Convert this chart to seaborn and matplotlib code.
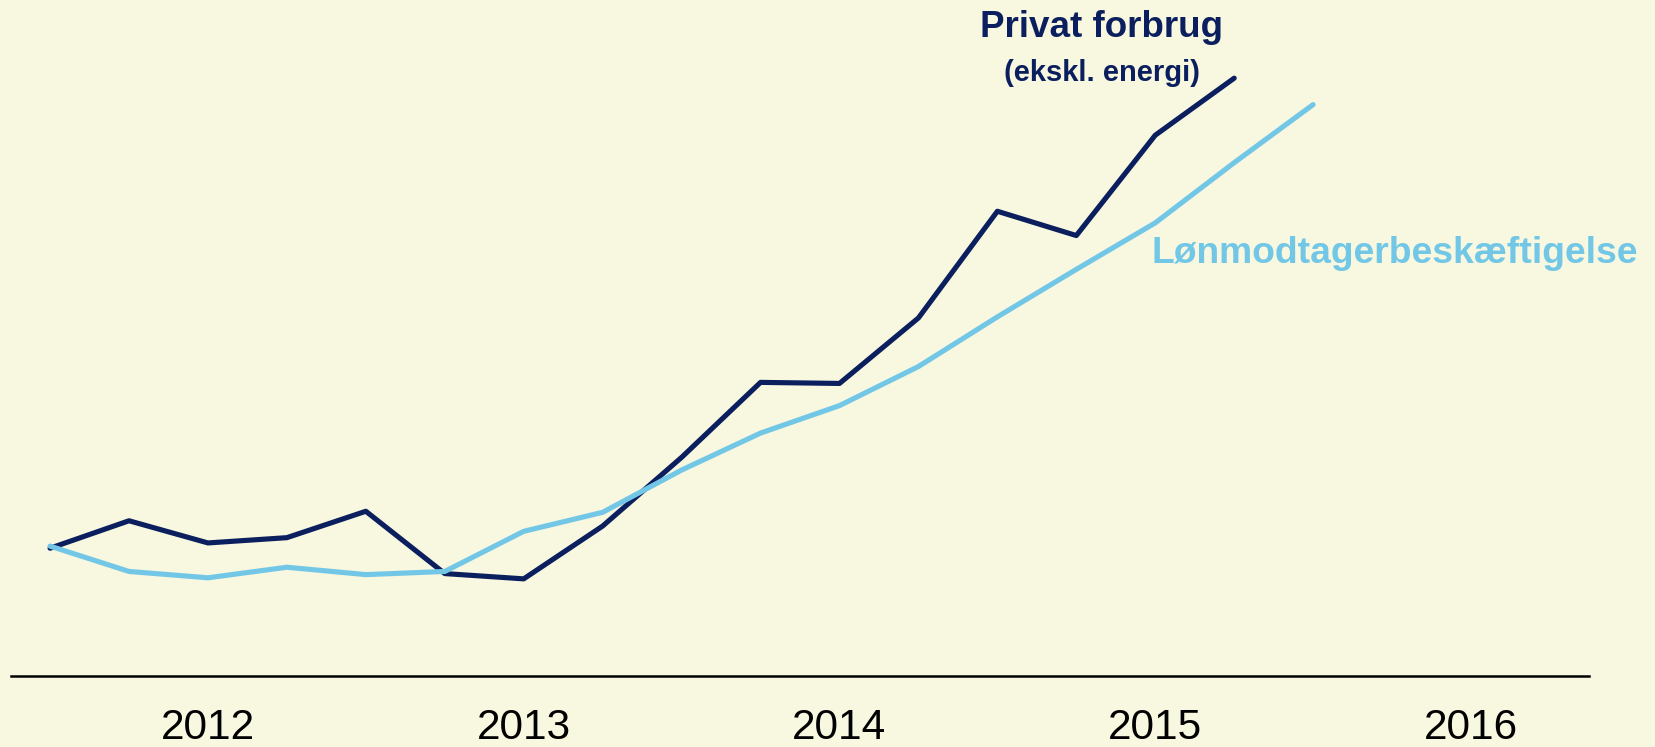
import numpy as np
import pandas as pd
import matplotlib.pyplot as plt
import seaborn as sns

# Quarterly index values (first quarter = 100)
quarters = list(range(17))
privat_forbrug = [99.98, 100.50, 100.08, 100.18, 100.68, 99.50, 99.40, 100.40,
                  101.70, 103.12, 103.10, 104.34, 106.36, 105.90, 107.80, 108.88]
beskaeftigelse = [100.02, 99.54, 99.42, 99.62, 99.48, 99.54, 100.30, 100.66,
                  101.46, 102.16, 102.68, 103.42, 104.36, 105.26, 106.14, 107.28, 108.38]
year_labels = ["2012", "2013", "2014", "2015", "2016"]
year_pos = [2, 6, 10, 14, 18]

navy = "#0b1f5e"
light = "#72c7e7"
bg = "#f8f7e0"

df = pd.concat([
    pd.DataFrame({"q": quarters[:len(privat_forbrug)], "v": privat_forbrug, "serie": "Privat forbrug"}),
    pd.DataFrame({"q": quarters, "v": beskaeftigelse, "serie": "Lønmodtagerbeskæftigelse"}),
])

sns.set_style("white")
plt.rcParams['font.family'] = ['Liberation Sans', 'DejaVu Sans']

fig = plt.figure(figsize=(16.56, 7.47), dpi=100, facecolor=bg)
ax = fig.add_axes([0.0064, 0.095, 0.9534, 0.905])
ax.set_facecolor(bg)

sns.lineplot(data=df, x="q", y="v", hue="serie",
             palette={"Privat forbrug": navy, "Lønmodtagerbeskæftigelse": light},
             linewidth=3.7, legend=False, ax=ax)

ax.set_xlim(-0.5, 19.5)
ax.set_ylim(97.56, 110.36)
ax.set_xticks(year_pos)
ax.set_xticklabels(year_labels, fontsize=30.5)
ax.tick_params(axis="x", length=0, pad=23, colors="black")
ax.set_yticks([])
ax.set_xlabel("")
ax.set_ylabel("")
for s in ["top", "left", "right"]:
    ax.spines[s].set_visible(False)
ax.spines["bottom"].set_color("black")
ax.spines["bottom"].set_linewidth(1.8)

ax.text(13.32, 109.84, "Privat forbrug", color=navy, fontsize=26.5, fontweight="bold",
        ha="center", va="center")
ax.text(13.32, 108.98, "(ekskl. energi)", color=navy, fontsize=21, fontweight="bold",
        ha="center", va="center")
ax.text(17.03, 105.56, "Lønmodtagerbeskæftigelse", color=light, fontsize=26.8,
        fontweight="bold", ha="center", va="center")

fig.savefig("out.png", dpi=100, facecolor=bg)
